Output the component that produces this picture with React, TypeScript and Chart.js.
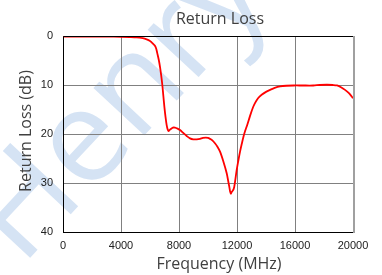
import React, { useEffect, useRef } from "react";
import { Chart, registerables } from "chart.js";

Chart.register(...registerables);

const freqMHz = [
  0, 1000, 2000, 3000, 4000, 4600, 5080, 5500, 5770, 6000, 6110, 6250, 6340, 6430, 6500, 6600,
  6690, 6770, 6850, 6920, 6990, 7070, 7150, 7220, 7280, 7350, 7430, 7580, 7720, 7900, 8070,
  8300, 8530, 8760, 8990, 9220, 9450, 9650, 9850, 10000, 10140, 10300, 10480, 10650, 10830,
  11060, 11290, 11400, 11470, 11530, 11580, 11640, 11700, 11760, 11810, 11900, 11980, 12100,
  12210, 12330, 12450, 12570, 12700, 12900, 13100, 13240, 13450, 13700, 14000, 14280, 14600,
  14970, 15400, 15900, 16500, 17260, 17700, 18200, 18600, 18900, 19200, 19450, 19700, 19900,
  20000,
];
const returnLossDb = [
  0.1, 0.1, 0.1, 0.12, 0.15, 0.2, 0.27, 0.45, 0.68, 1.0, 1.3, 1.7, 2.0, 2.6, 3.5, 4.8,
  6.3, 8.0, 10.0, 12.2, 14.4, 16.5, 18.2, 19.1, 19.4, 19.2, 19.0, 18.7, 18.7, 18.9, 19.2,
  19.8, 20.4, 20.9, 21.1, 21.1, 21.0, 20.8, 20.75, 20.8, 21.0, 21.3, 21.9, 22.6, 23.6,
  25.6, 28.0, 29.7, 30.8, 31.8, 32.2, 31.8, 31.6, 31.3, 30.8, 29.0, 27.3, 25.3,
  23.6, 22.0, 20.5, 19.3, 18.2, 16.3, 14.6, 13.7, 12.7, 12.0, 11.4, 11.0, 10.6,
  10.3, 10.15, 10.1, 10.1, 10.1, 10.0, 9.95, 10.0, 10.1, 10.5, 11.0, 11.6, 12.3,
  12.7,
];
const xTicks = [0, 4000, 8000, 12000, 16000, 20000];
const yTicks = [0, 10, 20, 30, 40];
const chartTitle = "Return Loss";
const xTitle = "Frequency (MHz)";
const yTitle = "Return Loss (dB)";
const watermark = "Henry";

const titlesPlugin = {
  id: "titles",
  afterDraw(chart: any) {
    const ctx = chart.ctx;
    const a = chart.chartArea;
    ctx.save();
    ctx.fillStyle = "#404040";
    ctx.textAlign = "center";
    ctx.textBaseline = "middle";
    ctx.font = "16px 'Open Sans'";
    ctx.fillText(chartTitle, 220, 19);
    ctx.fillText(xTitle, 219, 264);
    ctx.translate(26, 131);
    ctx.rotate(-Math.PI / 2);
    ctx.fillText(yTitle, 0, 0);
    ctx.restore();
    ctx.save();
    ctx.strokeStyle = "#000";
    ctx.lineWidth = 1;
    ctx.beginPath();
    ctx.moveTo(a.left + 0.5, a.bottom + 0.5);
    ctx.lineTo(a.left + 0.5, a.top + 0.5);
    ctx.lineTo(a.right, a.top + 0.5);
    ctx.moveTo(a.left, a.bottom + 0.5);
    ctx.lineTo(a.right, a.bottom + 0.5);
    ctx.stroke();
    ctx.strokeStyle = "#a0a0a0";
    ctx.lineWidth = 2;
    ctx.beginPath();
    ctx.moveTo(a.right + 1, a.top);
    ctx.lineTo(a.right + 1, a.bottom + 1);
    ctx.stroke();
    ctx.restore();
  },
};

export default function App() {
  const ref = useRef<HTMLCanvasElement>(null);
  useEffect(() => {
    const prevMargin = document.body.style.margin;
    document.body.style.margin = "0";
    const chart = new Chart(ref.current as HTMLCanvasElement, {
      type: "line",
      data: {
        datasets: [
          {
            data: freqMHz.map((f, i) => ({ x: f, y: returnLossDb[i] })),
            borderColor: "#ff0000",
            borderWidth: 1.8,
            pointRadius: 0,
            tension: 0.3,
            fill: false,
          },
        ],
      },
      options: {
        animation: false,
        responsive: false,
        maintainAspectRatio: false,
        layout: { padding: { left: 0, top: 36, right: 29, bottom: 0 } },
        plugins: { legend: { display: false }, tooltip: { enabled: false }, title: { display: false } },
        scales: {
          x: {
            type: "linear",
            min: 0,
            max: 20000,
            afterBuildTicks(scale: any) {
              scale.ticks = xTicks.map((v) => ({ value: v }));
            },
            afterFit(scale: any) {
              scale.height = 43;
            },
            ticks: {
              color: "#222",
              font: { family: "'Liberation Sans', Arial", size: 11 },
              padding: 7,
              maxRotation: 0,
              autoSkip: false,
              callback: (v: any) => String(v),
            },
            grid: { color: "#808080", lineWidth: 1, drawTicks: false },
            border: { display: false },
          },
          y: {
            type: "linear",
            min: 0,
            max: 40,
            reverse: true,
            afterBuildTicks(scale: any) {
              scale.ticks = yTicks.map((v) => ({ value: v }));
            },
            afterFit(scale: any) {
              scale.width = 63;
            },
            ticks: {
              color: "#222",
              font: { family: "'Liberation Sans', Arial", size: 11 },
              padding: 10,
              autoSkip: false,
              callback: (v: any) => String(v),
            },
            grid: { color: "#808080", lineWidth: 1, drawTicks: false },
            border: { display: false },
          },
        },
      },
      plugins: [titlesPlugin],
    } as any);
    return () => {
      chart.destroy();
      document.body.style.margin = prevMargin;
    };
  }, []);
  return (
    <div style={{ position: "fixed", left: 0, top: 0, width: 382, height: 275, overflow: "hidden", background: "#fff" }}>
      <div
        style={{
          position: "absolute",
          left: -15,
          top: 168,
          fontFamily: "'Open Sans', sans-serif",
          fontSize: 130,
          color: "#d5e3f4",
          transform: "rotate(-47deg)",
          transformOrigin: "left center",
          whiteSpace: "nowrap",
          lineHeight: 1,
        }}
      >
        {watermark}
      </div>
      <canvas ref={ref} width={382} height={275} style={{ position: "absolute", left: 0, top: 0, width: 382, height: 275 }} />
    </div>
  );
}
